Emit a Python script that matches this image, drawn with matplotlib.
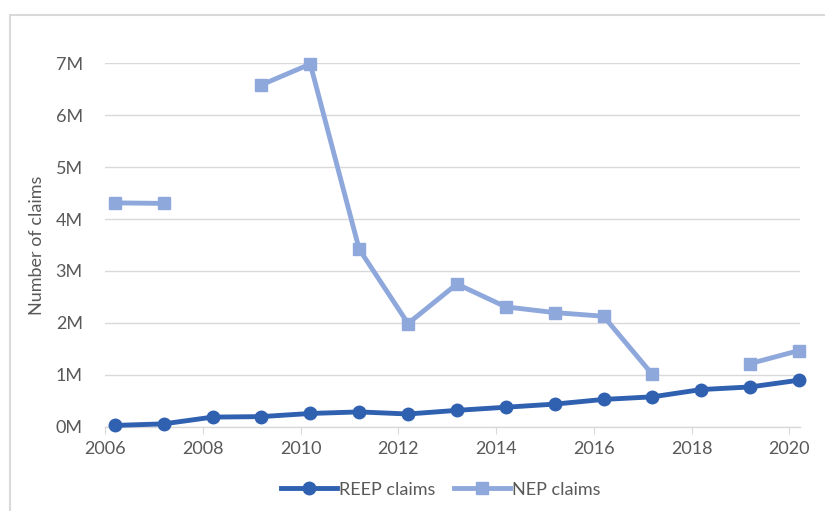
import numpy as np
import matplotlib.pyplot as plt
from matplotlib.patches import Rectangle

plt.rcParams['font.family'] = ['Lato', 'DejaVu Sans']

# data points sit a little after each year tick
years = np.arange(2006, 2021) + 0.2
reep = [0.03, 0.06, 0.19, 0.20, 0.26, 0.29, 0.25, 0.32, 0.38, 0.44, 0.53, 0.58, 0.72, 0.77, 0.90]
nep = [4.31, 4.30, np.nan, 6.58, 6.98, 3.42, 1.99, 2.75, 2.31, 2.20, 2.13, 1.01, np.nan, 1.22, 1.47]
xticks = list(range(2006, 2021, 2))
yticks = list(range(0, 8))

reep_col = '#3060B0'
nep_col = '#8FA8DC'
txt_col = '#595959'
fs = 13

fig = plt.figure(figsize=(8.25, 5.11), dpi=100)
ax = fig.add_axes([0.1273, 0.1644, 0.8424, 0.7123])

# chart area frame
fig.patches.append(Rectangle((10/825, -0.1), 1.2, 1 - 15/511 + 0.1, transform=fig.transFigure,
                             fill=False, edgecolor='#D9D9D9', linewidth=1.5))

ax.plot(years, reep, color=reep_col, lw=3.5, marker='o', ms=9, label='REEP claims', zorder=3, clip_on=False)
ax.plot(years, nep, color=nep_col, lw=3.5, marker='s', ms=9, label='NEP claims', zorder=2, clip_on=False)

ax.set_xlim(2006, 2020.22)
ax.set_ylim(0, 7)
ax.set_xticks(xticks)
ax.set_yticks(yticks)
ax.set_yticklabels([f'{v}M' for v in yticks])
ax.grid(axis='y', color='#D9D9D9', lw=1)
ax.set_axisbelow(True)
for s in ['top', 'right', 'left']:
    ax.spines[s].set_visible(False)
ax.spines['bottom'].set_color('#D9D9D9')
ax.spines['bottom'].set_linewidth(1)
ax.tick_params(axis='y', length=0, pad=16, labelsize=fs, labelcolor=txt_col)
ax.tick_params(axis='x', length=5, color='#D9D9D9', pad=5, labelsize=fs, labelcolor=txt_col)
ax.set_ylabel('Number of claims', fontsize=fs, color=txt_col, labelpad=8)

ax.legend(loc='center', bbox_to_anchor=(0.483, -0.172), ncol=2, frameon=False,
          handlelength=3.1, fontsize=fs, labelcolor=txt_col, columnspacing=1.0, handletextpad=0.15)

fig.savefig('out.png', dpi=100, facecolor='white')
